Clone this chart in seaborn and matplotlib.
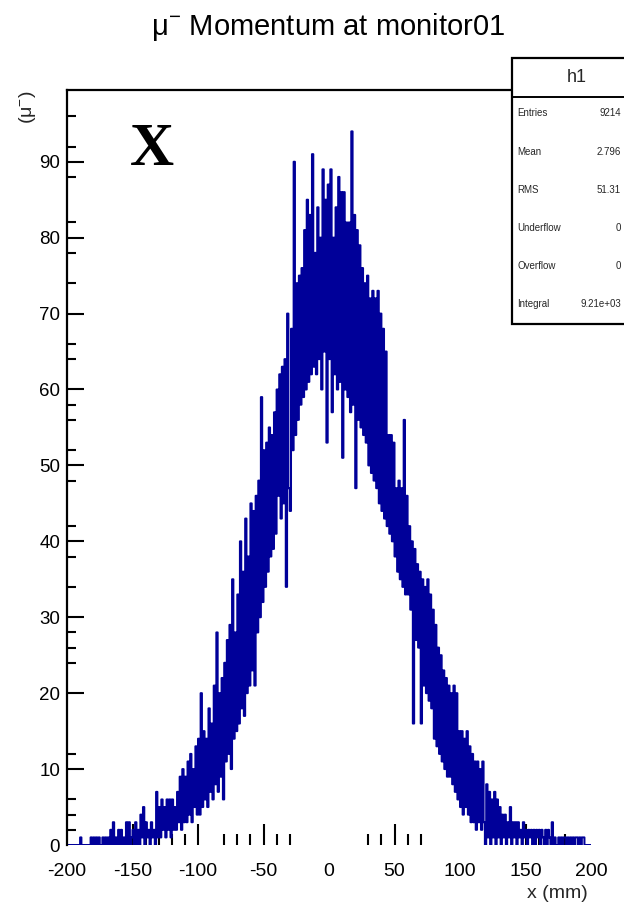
import numpy as np
import pandas as pd
import matplotlib
matplotlib.use("Agg")
import matplotlib.pyplot as plt
import seaborn as sns
from matplotlib.patches import Rectangle
from matplotlib.lines import Line2D

# ---------------- data: counts per 1 mm bin, x from -200 to 200 ----------------
cnt_m200_m151 = [0, 0, 0, 0, 0, 0, 0, 0, 0, 0,
                 1, 0, 0, 0, 0, 0, 0, 0, 1, 0,
                 1, 0, 1, 0, 1, 0, 0, 1, 0, 1,
                 0, 1, 0, 2, 0, 3, 0, 1, 0, 2,
                 0, 2, 0, 1, 0, 3, 0, 3, 0, 1]
cnt_m150_m101 = [2, 0, 3, 0, 2, 0, 4, 1, 5, 0,
                 3, 1, 2, 0, 3, 1, 2, 0, 7, 1,
                 5, 1, 6, 2, 5, 1, 6, 2, 6, 1,
                 6, 2, 5, 2, 7, 3, 9, 2, 10, 3,
                 9, 3, 11, 4, 12, 3, 10, 5, 13, 4]
cnt_m100_m51 = [14, 4, 20, 5, 15, 6, 14, 5, 18, 7,
                16, 6, 21, 8, 28, 7, 20, 9, 22, 6,
                24, 11, 27, 12, 29, 10, 35, 14, 28, 15,
                33, 16, 40, 18, 36, 17, 43, 20, 38, 21,
                45, 23, 44, 21, 46, 28, 48, 30, 59, 32]
cnt_m50_m1 = [52, 34, 53, 36, 55, 38, 54, 39, 57, 41,
              60, 46, 62, 43, 63, 45, 64, 34, 70, 47,
              44, 68, 52, 90, 54, 74, 56, 75, 58, 76,
              59, 81, 60, 85, 61, 83, 62, 91, 63, 78,
              62, 84, 64, 80, 60, 89, 65, 85, 53, 87]
cnt_0_49 = [64, 89, 57, 80, 62, 84, 60, 88, 61, 86,
            51, 86, 60, 82, 59, 82, 57, 94, 58, 83,
            47, 81, 56, 79, 55, 76, 54, 74, 53, 75,
            50, 72, 49, 73, 48, 72, 47, 73, 45, 70,
            44, 68, 43, 65, 42, 54, 41, 54, 40, 53]
cnt_50_99 = [38, 47, 36, 48, 35, 47, 34, 56, 33, 46,
             33, 42, 31, 40, 16, 39, 27, 37, 26, 36,
             16, 35, 21, 34, 20, 35, 19, 33, 18, 31,
             14, 29, 13, 26, 12, 25, 11, 23, 10, 22,
             9, 21, 9, 20, 8, 21, 7, 20, 6, 15]
cnt_100_149 = [5, 15, 4, 14, 5, 15, 4, 13, 3, 12,
               3, 11, 2, 11, 3, 10, 2, 11, 3, 0,
               8, 1, 7, 0, 6, 1, 7, 0, 6, 1,
               5, 0, 4, 1, 4, 0, 3, 1, 5, 0,
               3, 1, 3, 0, 3, 1, 2, 0, 3, 1]
cnt_150_199 = [2, 0, 2, 1, 2, 0, 2, 0, 2, 1,
               2, 0, 2, 1, 0, 2, 0, 2, 1, 0,
               3, 0, 1, 0, 0, 1, 0, 1, 0, 1,
               1, 0, 1, 0, 1, 0, 1, 0, 1, 1,
               0, 1, 0, 1, 1, 0, 0, 0, 0, 0]

x_min, x_max, bin_w = -200, 200, 1
counts = np.array(cnt_m200_m151 + cnt_m150_m101 + cnt_m100_m51 + cnt_m50_m1 +
                  cnt_0_49 + cnt_50_99 + cnt_100_149 + cnt_150_199, dtype=float)
x_centers = np.arange(x_min, x_max, bin_w) + bin_w / 2

x_tick_vals = [-200, -150, -100, -50, 0, 50, 100, 150, 200]
x_tick_labels = ["-200", "-150", "-100", "-50", "0", "50", "100", "150", "200"]
y_tick_vals = [0, 10, 20, 30, 40, 50, 60, 70, 80, 90]
y_tick_labels = ["0", "10", "20", "30", "40", "50", "60", "70", "80", "90"]

title_text = "μ$^{-}$ Momentum at monitor01"
x_label = "x (mm)"
y_label = "(μ$^{-}$)"
stat_names = ["Entries", "Mean", "RMS", "Underflow", "Overflow", "Integral"]

# ---------------- style ----------------
sns.set_theme(style="ticks")
plt.rcParams['font.family'] = ['Liberation Sans', 'DejaVu Sans']
plt.rcParams['mathtext.fontset'] = 'custom'
plt.rcParams['mathtext.rm'] = 'Liberation Sans'
plt.rcParams['mathtext.it'] = 'Liberation Sans:italic'
plt.rcParams['mathtext.default'] = 'regular'

W, H = 624, 910
fig = plt.figure(figsize=(W / 100, H / 100), dpi=100)
fig.patch.set_facecolor("white")

ax_l, ax_r, ax_t, ax_b = 67, 591, 90, 845
ax = fig.add_axes([ax_l / W, 1 - ax_b / H, (ax_r - ax_l) / W, (ax_b - ax_t) / H])
ax.set_facecolor("white")

df = pd.DataFrame({"x": x_centers, "w": counts})
sns.histplot(data=df, x="x", weights="w", binwidth=bin_w,
             binrange=(x_min, x_max), element="step",
             fill=False, color="#000099", linewidth=1.45, snap=False, ax=ax)

ax.set_xlim(x_min, x_max)
ax.set_ylim(0.15, 99.45)

for s in ["right", "bottom"]:
    ax.spines[s].set_visible(False)
for s in ["left", "top"]:
    ax.spines[s].set_linewidth(1.6)
    ax.spines[s].set_color("black")

# x ticks
ax.set_xticks(x_tick_vals)
ax.set_xticklabels(x_tick_labels)
ax.set_xticks([-140, -130, -120, -110, -80, -70, -60, -40, -30,
               30, 40, 60, 70, 140, 160, 170, 180], minor=True)
ax.tick_params(axis="x", which="major", direction="in", length=15, width=1.5,
               pad=13, labelsize=14, colors="black", top=False, bottom=True)
ax.tick_params(axis="x", which="minor", direction="in", length=8, width=1.5,
               top=False, bottom=True, color="black")
for t, v in zip(ax.xaxis.get_major_ticks(), x_tick_vals):
    if v in (-200, 0, 100, 200):
        t.tick1line.set_visible(False)

# y ticks
ax.set_yticks(y_tick_vals)
ax.set_yticklabels(y_tick_labels)
ax.set_yticks([2, 4, 6, 12, 24, 26, 28, 34, 38, 42, 48, 52, 56, 58, 64, 66,
               74, 78, 82, 88, 92, 96], minor=True)
ax.tick_params(axis="y", which="major", direction="in", length=12, width=1.5,
               pad=5, labelsize=13.5, colors="black", left=True, right=False)
ax.tick_params(axis="y", which="minor", direction="in", length=6.5, width=1.5,
               left=True, right=False, color="black")
for t, v in zip(ax.yaxis.get_major_ticks(), y_tick_vals):
    if v == 0:
        t.tick1line.set_visible(False)

ax.set_xlabel(x_label, fontsize=14, ha="right", va="center")
ax.xaxis.set_label_coords(1.0 - 3 / (ax_r - ax_l), -(894 - ax_b) / (ax_b - ax_t))
ax.set_ylabel(y_label, fontsize=14, rotation=90, ha="right", va="bottom")
ax.yaxis.set_label_coords(-(ax_l - 38) / (ax_r - ax_l), 1.0)

# title
fig.text(328 / W, 1 - 27 / H, title_text, ha="center", va="center",
         fontsize=21, color="black")

# big X annotation
fig.text(152 / W, 1 - 150 / H, "X", ha="center", va="center",
         fontfamily="Liberation Serif", fontweight="bold", fontsize=44,
         color="black")

# ---------------- stats box (cut by the figure edge) ----------------
bx0, bx1, by0, by1, bdiv = 512, 642, 58, 324, 97
box = Rectangle((bx0 / W, 1 - by1 / H), (bx1 - bx0) / W, (by1 - by0) / H,
                transform=fig.transFigure, facecolor="white", edgecolor="black",
                linewidth=1.6, zorder=10, clip_on=False)
fig.add_artist(box)
fig.add_artist(Line2D([bx0 / W, bx1 / W], [1 - bdiv / H, 1 - bdiv / H],
                      transform=fig.transFigure, color="black", linewidth=1.4,
                      zorder=11))
fig.text(577 / W, 1 - 78 / H, "h1", ha="center", va="center",
         fontsize=13, zorder=12)

entries = int(counts.sum())
mean = float((counts * x_centers).sum() / counts.sum())
rms = float(np.sqrt((counts * (x_centers - mean) ** 2).sum() / counts.sum()))
stat_vals = [f"{entries}", f"{mean:.3f}", f"{rms:.2f}", "0", "0",
             f"{counts.sum():.2e}"]
row_y = [113, 152, 190, 228, 266, 304]
for name, val, yy in zip(stat_names, stat_vals, row_y):
    fig.text(517 / W, 1 - yy / H, name, ha="left", va="center", fontsize=7,
             zorder=12)
    fig.text(621 / W, 1 - yy / H, val, ha="right", va="center", fontsize=7,
             zorder=12)

fig.savefig("out.png", dpi=100)
